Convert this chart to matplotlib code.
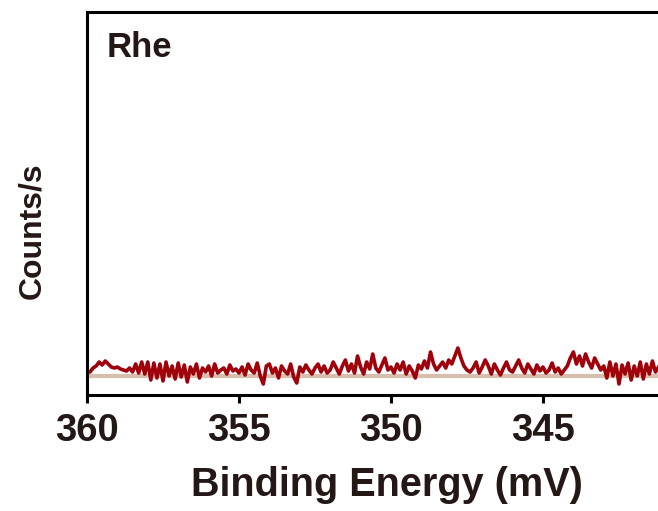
"""
Rhe spectrum, counts vs binding energy
"""
import numpy as np
from matplotlib import pyplot

TEXT_COLOR = "#231815"
LINE_COLOR = "#A0000A"
BG_COLOR = "#D8BEAD"

# energy grid, 0.1 steps from 360.0 down to 341.2
energy = np.round(np.arange(360.0, 341.15, -0.1), 1)

# counts above background (arbitrary units)
counts = [
    5, 4, 8, 10, 14, 11, 15, 12, 9, 8, 9, 7, 6, 5, 8, 4, 12, 3, 14, 2,
    14, -4, 13, -2, 12, -5, 14, 0, 10, -3, 13, -1, 11, -6, 9, 2, 12, -2, 8, 4,
    10, 0, 12, 3, 6, 8, 2, 11, 5, 7, 3, 9, 1, 12, 6, 3, 13, 0, -8, 10,
    12, 3, 8, -2, 10, 5, 2, 12, -1, -7, 9, 4, 11, 6, 2, 8, 12, 4, 10, 3,
    6, 14, 8, 2, 10, 16, 5, 12, 3, 20, 9, 2, 14, 7, 22, 8, 4, 11, 18, 6,
    9, 3, 12, 6, 14, 2, 10, 5, -2, 11, 7, 15, 8, 24, 12, 6, 10, 14, 8, 16,
    12, 20, 28, 18, 10, 6, 4, 8, 14, 3, 9, 16, 10, 2, 12, 6, 1, 8, 14, 6,
    4, 10, 16, 8, 3, 12, 7, 2, 11, 5, 9, 3, 6, 13, 4, 8, 2, 6, 10, 18,
    24, 12, 20, 10, 22, 14, 8, 18, 12, 6, 10, -2, 14, 0, 12, -8, 11, 2, 13, -4,
    10, 0, 14, -3, 12, 2, 15, 4, 9,
]

bg_energy = [360.0, 340.3]
bg_counts = [0.0, 0.0]

x_ticks = [360, 355, 350, 345]

pyplot.rcParams["font.family"] = ["Liberation Sans", "DejaVu Sans"]
pyplot.rcParams["font.weight"] = "bold"

fig = pyplot.figure(figsize=(6.58, 5.11), dpi=100)
ax = fig.add_axes([0.1322, 0.227, 0.912, 0.7495])

ax.plot(bg_energy, bg_counts, color=BG_COLOR, lw=3.0, solid_capstyle="butt")
ax.plot(energy[: len(counts)], counts, color=LINE_COLOR, lw=2.6)

ax.set_xlim(360, 340.26)
ax.set_ylim(-19, 364)
ax.set_xticks(x_ticks)
ax.set_yticks([])

for side in ["left", "top", "bottom", "right"]:
    ax.spines[side].set_linewidth(2.2)
    ax.spines[side].set_color("black")

ax.tick_params(axis="x", direction="out", length=6, width=2.2,
               labelsize=27.5, pad=7, colors="black", labelcolor=TEXT_COLOR)
for lbl in ax.get_xticklabels():
    lbl.set_fontweight("bold")

ax.set_xlabel("Binding Energy (mV)", fontsize=28.5, fontweight="bold",
              color=TEXT_COLOR, labelpad=12)
fig.text(32 / 658, 1 - 231 / 511, "Counts/s", rotation=90, fontsize=23,
         fontweight="bold", color=TEXT_COLOR, ha="center", va="center")
fig.text(107 / 658, 1 - 57 / 511, "Rhe", fontsize=25, fontweight="bold",
         color=TEXT_COLOR, ha="left", va="baseline")

fig.savefig("out.png", dpi=100)
pyplot.close(fig)
